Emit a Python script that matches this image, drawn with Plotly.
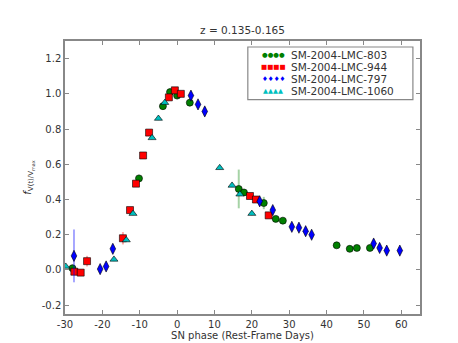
import plotly.graph_objects as go

title_text = "z = 0.135-0.165"
x_label = "SN phase (Rest-Frame Days)"
y_label = "<i>f</i><sub>V(t)/V<sub>max</sub></sub>"

names = ["SM-2004-LMC-803", "SM-2004-LMC-944", "SM-2004-LMC-797", "SM-2004-LMC-1060"]

x803 = [-28.0, -10.2, -3.8, -1.9, 0.0, 3.4, 16.5, 17.9, 23.2, 26.4, 28.3, 42.7, 46.2, 48.1, 51.6]
y803 = [0.01, 0.52, 0.93, 1.01, 0.99, 0.95, 0.46, 0.44, 0.38, 0.29, 0.28, 0.14, 0.12, 0.125, 0.125]
e803 = [0.02, 0.02, 0.02, 0.02, 0.02, 0.02, 0.11, 0.02, 0.035, 0.015, 0.015, 0.015, 0.015, 0.015, 0.015]

x944 = [-27.5, -25.8, -24.1, -14.5, -12.6, -11.0, -9.1, -7.5, -2.2, -0.6, 1.0, 19.5, 21.1, 24.5]
y944 = [-0.01, -0.015, 0.05, 0.18, 0.34, 0.49, 0.65, 0.78, 0.98, 1.02, 1.0, 0.42, 0.40, 0.31]
e944 = [0.02, 0.01, 0.03, 0.035, 0.01, 0.01, 0.01, 0.01, 0.01, 0.01, 0.01, 0.01, 0.01, 0.01]

x797 = [-27.6, -20.6, -19.0, -17.2, 3.7, 5.6, 7.4, 22.1, 25.6, 30.7, 32.6, 34.4, 36.0, 52.6, 54.2, 56.1, 59.6]
y797 = [0.08, 0.005, 0.02, 0.12, 0.99, 0.94, 0.90, 0.39, 0.34, 0.245, 0.24, 0.22, 0.20, 0.15, 0.125, 0.11, 0.11]
e797 = [0.15, 0.02, 0.02, 0.025, 0.025, 0.02, 0.025, 0.02, 0.02, 0.02, 0.02, 0.02, 0.02, 0.02, 0.02, 0.02, 0.02]

x1060 = [-29.8, -16.9, -13.6, -11.8, -6.7, -5.0, -3.3, 11.4, 14.7, 16.8, 20.0]
y1060 = [0.02, 0.06, 0.17, 0.32, 0.75, 0.86, 0.95, 0.58, 0.48, 0.43, 0.32]
e1060 = [0.01, 0.01, 0.01, 0.01, 0.01, 0.01, 0.01, 0.01, 0.01, 0.01, 0.01]

x_ticks = [-30, -20, -10, 0, 10, 20, 30, 40, 50, 60]
y_ticks = [-0.2, 0.0, 0.2, 0.4, 0.6, 0.8, 1.0, 1.2]

series = [
    (names[0], x803, y803, e803, "circle", 7, "#008000", "rgba(0,128,0,0.35)", "\u25cf\u25cf\u25cf\u25cf"),
    (names[1], x944, y944, e944, "square", 7, "#ff0000", "rgba(255,0,0,0.35)", "\u25a0\u25a0\u25a0\u25a0"),
    (names[2], x797, y797, e797, "diamond-tall", 8, "#0000ff", "rgba(0,0,255,0.35)", "\u2666\u2666\u2666\u2666"),
    (names[3], x1060, y1060, e1060, "triangle-up", 7, "#00bfbf", "rgba(0,191,191,0.35)", "\u25b2\u25b2\u25b2\u25b2"),
]

fig = go.Figure()
for name, xs, ys, es, sym, sz, col, ecol, glyph in series:
    fig.add_trace(go.Scatter(
        x=xs, y=ys, mode="markers", name=name, showlegend=False,
        marker=dict(symbol=sym, size=sz, color=col, line=dict(color="#000000", width=0.6)),
        error_y=dict(type="data", array=es, visible=True, color=ecol, thickness=2, width=0),
        cliponaxis=True,
    ))

# custom compact legend (matplotlib style, 4 markers per entry)
fig.add_shape(type="rect", xref="paper", yref="paper", x0=0.515, x1=0.980, y0=0.785, y1=0.978,
              line=dict(color="#888888", width=1.2), fillcolor="white", layer="above")
row_y = [0.949, 0.905, 0.861, 0.817]
for (name, xs, ys, es, sym, sz, col, ecol, glyph), ry in zip(series, row_y):
    fig.add_annotation(xref="paper", yref="paper", x=0.586, y=ry, xanchor="center", yanchor="middle",
                       text=glyph, showarrow=False,
                       font=dict(family="DejaVu Sans", size=6.5, color=col))
    fig.add_annotation(xref="paper", yref="paper", x=0.632, y=ry, xanchor="left", yanchor="middle",
                       text=name, showarrow=False,
                       font=dict(family="DejaVu Sans", size=10.5, color="#333333"))

axis_common = dict(
    showline=True, linecolor="#888888", linewidth=1.5, mirror="ticks",
    ticks="inside", ticklen=4, tickcolor="#888888", showgrid=False, zeroline=False,
    tickfont=dict(family="DejaVu Sans", size=10, color="#333333"),
)

fig.update_layout(
    width=458, height=343,
    margin=dict(l=57, r=46, t=33, b=35),
    paper_bgcolor="white", plot_bgcolor="white",
    showlegend=False,
    title=dict(text=title_text, x=0.512, xanchor="center", y=0.935, yanchor="middle",
               font=dict(family="DejaVu Sans", size=10.5, color="#333333")),
    xaxis=dict(range=[-30, 65], tickvals=x_ticks, ticktext=[str(v) for v in x_ticks],
               title=dict(text=x_label, standoff=2, font=dict(family="DejaVu Sans", size=10, color="#333333")),
               **axis_common),
    yaxis=dict(range=[-0.25, 1.3], tickvals=y_ticks, ticktext=["%.1f" % v for v in y_ticks],
               title=dict(text=y_label, standoff=8, font=dict(family="DejaVu Sans", size=10, color="#333333")),
               **axis_common),
)

fig.write_html("out.html")
